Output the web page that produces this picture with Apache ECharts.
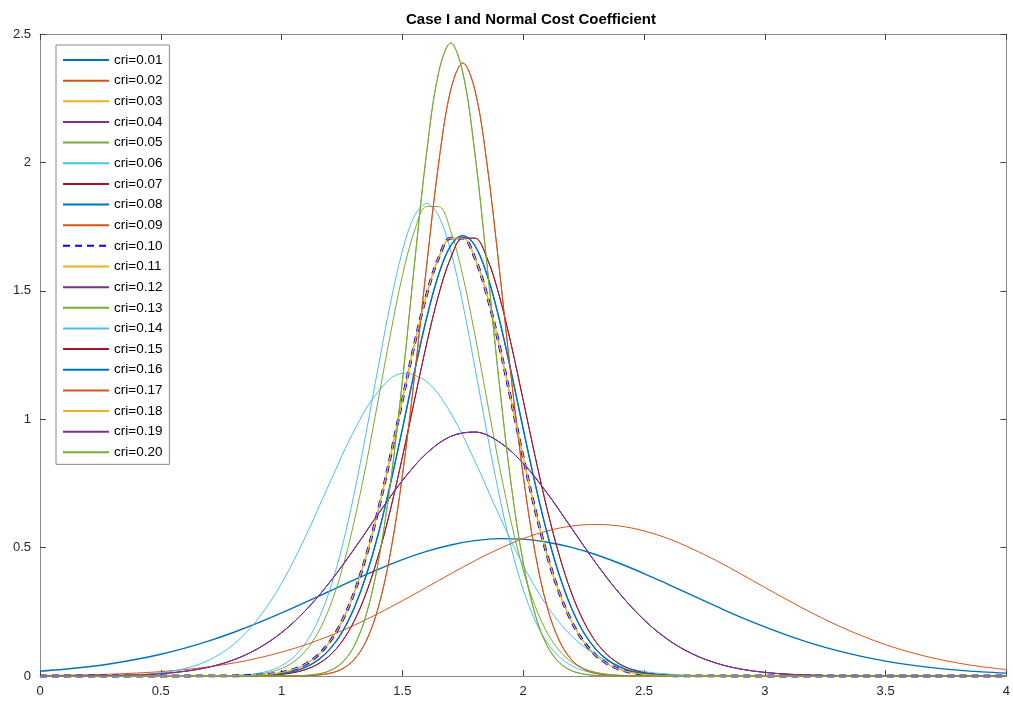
<!DOCTYPE html>
<html>
<head>
<meta charset="utf-8">
<script src="https://cdn.jsdelivr.net/npm/echarts@6/dist/echarts.min.js"></script>
<style>
html,body{margin:0;padding:0;background:#fff;}
#chart{width:1013px;height:708px;}
</style>
</head>
<body>
<div id="chart"></div>
<script>
// ---- Data ----
const chartTitle = 'Case I and Normal Cost Coefficient';
const seriesNames = ['cri=0.01','cri=0.02','cri=0.03','cri=0.04','cri=0.05','cri=0.06','cri=0.07','cri=0.08','cri=0.09','cri=0.10',
  'cri=0.11','cri=0.12','cri=0.13','cri=0.14','cri=0.15','cri=0.16','cri=0.17','cri=0.18','cri=0.19','cri=0.20'];
const xTicks = [0, 0.5, 1, 1.5, 2, 2.5, 3, 3.5, 4];
const yTicks = [0, 0.5, 1, 1.5, 2, 2.5];

// x grid for the wide curves (0 .. 4, step 0.1)
const xsWide = [0,0.1,0.2,0.3,0.4,0.5,0.6,0.7,0.8,0.9,1.0,1.1,1.2,1.3,1.4,1.5,1.6,1.7,1.8,1.9,2.0,
  2.1,2.2,2.3,2.4,2.5,2.6,2.7,2.8,2.9,3.0,3.1,3.2,3.3,3.4,3.5,3.6,3.7,3.8,3.9,4.0];
// x grid for the narrow curves
const xsNarrow = [0,0.5,0.8,0.85,0.9,0.95,1.0,1.05,1.1,1.15,1.2,1.25,1.3,1.35,1.4,1.45,1.5,1.55,1.6,1.65,1.7,1.75,
  1.8,1.85,1.9,1.95,2.0,2.05,2.1,2.15,2.2,2.25,2.3,2.35,2.4,2.45,2.5,2.55,2.6,2.65,2.7,3.0,3.5,4.0];

// wide blue curve (peak ~0.535 near 1.93)
const curveWideBlue = [0.0187,0.0262,0.0361,0.0488,0.065,0.0848,0.1087,0.1369,0.1694,0.2057,0.2455,0.2876,0.331,0.374,0.415,0.453,0.485,0.510,0.527,0.535,0.533,
  0.521,0.501,0.473,0.438,0.399,0.357,0.314,0.271,0.229,0.191,0.156,0.125,0.0987,0.0763,0.058,0.0433,0.0318,0.0229,0.0162,0.0113];
// wide orange curve (peak ~0.59 near 2.3)
const curveWideOrange = [0.0018,0.003,0.0047,0.0074,0.0114,0.017,0.025,0.0358,0.0503,0.0692,0.0929,0.122,0.157,0.1975,0.243,0.293,0.345,0.398,0.449,0.495,0.535,
  0.565,0.584,0.59,0.584,0.565,0.535,0.495,0.449,0.398,0.345,0.293,0.243,0.1975,0.157,0.122,0.0929,0.0692,0.0503,0.0358,0.025];
// purple curve (peak ~0.95 near 1.78)
const curvePurple = [0.0001,0.0003,0.0008,0.0019,0.0043,0.0091,0.0183,0.0348,0.0624,0.1058,0.169,0.256,0.366,0.494,0.631,0.761,0.867,0.933,0.95,
  0.912,0.828,0.711,0.576,0.441,0.320,0.219,0.141,0.0863,0.0498,0.0271,0.014,0.0068,0.0031,0.0014,0.0006,0.0002,0.0001,0,0,0,0];
// light blue curve (peak ~1.18 near 1.52)
const curveLightBlueLow = [0,0,0,0.0017,0.0049,0.0124,0.029,0.0622,0.122,0.2195,0.361,0.545,0.754,0.955,1.108,1.178,
  1.147,1.024,0.837,0.627,0.431,0.271,0.156,0.0824,0.0399,0.0176,0.0072,0.0027,0.0009,0.0003,0,0,0,0,0,0,0,0,0,0,0];

// narrow curves on xsNarrow
const curveLightBlueHigh = [0,0,0.0021,0.0047,0.0101,0.0207,0.0403,0.0742,0.129,0.214,0.337,0.501,0.708,0.948,1.203,1.449,1.655,1.792,1.84,1.792,1.655,1.449,
  1.203,0.948,0.708,0.501,0.337,0.214,0.129,0.0742,0.0403,0.0207,0.0101,0.0047,0.0021,0.0009,0.0003,0.0001,0,0,0,0,0,0];
const curveGreenMid = [0,0,0.0013,0.0031,0.0069,0.0146,0.0291,0.055,0.0986,0.1676,0.270,0.413,0.600,0.824,1.075,1.329,1.559,1.733,1.828,1.828,1.733,1.559,
  1.329,1.075,0.824,0.600,0.413,0.270,0.1676,0.0986,0.055,0.0291,0.0146,0.0069,0.0031,0.0013,0.0005,0.0002,0,0,0,0,0,0];
const curveGreenTall = [0,0,0,0,0,0,0.0002,0.0008,0.0025,0.0076,0.0208,0.0516,0.1161,0.2376,0.442,0.747,1.148,1.604,2.036,2.350,2.465,2.350,
  2.036,1.604,1.148,0.747,0.442,0.2376,0.1161,0.0516,0.0208,0.0076,0.0025,0.0008,0.0002,0,0,0,0,0,0,0,0,0];
const curveOrangeTall = [0,0,0,0,0,0,0.0001,0.0004,0.0012,0.0038,0.0106,0.0271,0.0635,0.136,0.266,0.4765,0.780,1.166,1.595,1.996,2.282,2.387,
  2.282,1.996,1.595,1.166,0.780,0.4765,0.266,0.136,0.0635,0.0271,0.0106,0.0038,0.0012,0.0004,0.0001,0,0,0,0,0,0,0];
const curveClusterLeft = [0,0,0.0006,0.0015,0.0032,0.0067,0.0133,0.0254,0.0464,0.0808,0.1343,0.2132,0.323,0.4675,0.646,0.8525,1.074,1.292,1.484,1.628,1.705,1.705,
  1.628,1.484,1.292,1.074,0.8525,0.646,0.4675,0.323,0.2132,0.1343,0.0808,0.0464,0.0254,0.0133,0.0067,0.0032,0.0015,0.0006,0.0003,0,0,0];
const curveClusterMid = [0,0,0.0004,0.001,0.0022,0.0046,0.0095,0.0185,0.0345,0.0616,0.1048,0.170,0.264,0.391,0.5528,0.7465,0.9625,1.185,1.393,1.5636,1.676,1.715,
  1.676,1.5636,1.393,1.185,0.9625,0.7465,0.5528,0.391,0.264,0.170,0.1048,0.0616,0.0345,0.0185,0.0095,0.0046,0.0022,0.001,0.0004,0,0,0];
const curveClusterRight = [0,0,0.0003,0.0006,0.0015,0.0032,0.0067,0.0133,0.0254,0.0464,0.0808,0.1343,0.2132,0.323,0.4675,0.646,0.8525,1.074,1.292,1.484,1.628,1.705,
  1.705,1.628,1.484,1.292,1.074,0.8525,0.646,0.4675,0.323,0.2132,0.1343,0.0808,0.0464,0.0254,0.0133,0.0067,0.0032,0.0015,0.0006,0,0,0];

// ---- Styling ----
const C = {blue:'#0072BD', orange:'#D95319', yellow:'#EDB120', purple:'#7E2F8E', green:'#77AC30', lblue:'#4DBEEE', dred:'#A2142F'};
const FONT = '"Liberation Sans", Arial, Helvetica, sans-serif';

function pairs(xs, ys){ return xs.map((x,i)=>[x, ys[i]]); }

// series definition: [xs, ys, color, width, dashed]
const defs = [
  [xsWide, curveWideBlue, C.blue, 1.4, false],
  [xsNarrow, curveOrangeTall, C.orange, 1, false],
  [xsNarrow, curveClusterLeft, C.yellow, 1, false],
  [xsWide, curvePurple, C.purple, 1, false],
  [xsNarrow, curveGreenMid, C.green, 1, false],
  [xsNarrow, curveLightBlueHigh, C.lblue, 1, false],
  [xsNarrow, curveClusterRight, C.dred, 1, false],
  [xsNarrow, curveClusterMid, C.blue, 1, false],
  [xsWide, curveWideOrange, C.orange, 1, false],
  [xsNarrow, curveClusterLeft, '#0000FF', 2.8, true],
  [xsNarrow, curveClusterLeft, C.yellow, 1, false],
  [xsWide, curvePurple, C.purple, 1, false],
  [xsNarrow, curveGreenTall, C.green, 1, false],
  [xsWide, curveLightBlueLow, C.lblue, 1, false],
  [xsNarrow, curveClusterRight, C.dred, 1, false],
  [xsNarrow, curveClusterMid, C.blue, 1.4, false],
  [xsNarrow, curveOrangeTall, C.orange, 1, false],
  [xsNarrow, curveClusterLeft, C.yellow, 1, false],
  [xsWide, curvePurple, C.purple, 1, false],
  [xsNarrow, curveGreenTall, C.green, 1, false]
];

const series = defs.map((d, i) => ({
  name: seriesNames[i],
  type: 'line',
  data: pairs(d[0], d[1]),
  showSymbol: false,
  symbol: 'none',
  smooth: 0.35,
  clip: false,
  color: d[2],
  itemStyle: {color: d[2]},
  lineStyle: {color: d[2], width: d[3], type: d[4] ? [7, 5] : 'solid'},
  emphasis: {disabled: true},
  z: 2 + i
}));

const axisColor = '#8a8a8a';
const labelStyle = {color: '#262626', fontSize: 13, fontFamily: FONT};

const chart = echarts.init(document.getElementById('chart'), null, {renderer: 'canvas'});
chart.setOption({
  animation: false,
  backgroundColor: '#ffffff',
  title: {
    text: chartTitle,
    left: 526, top: 7, textAlign: 'center',
    textStyle: {fontSize: 15, fontWeight: 'bold', color: '#000', fontFamily: FONT}
  },
  grid: {left: 40, right: 5, top: 34, bottom: 32, containLabel: false},
  legend: {
    orient: 'vertical', left: 56, top: 45,
    padding: [8, 7, 5, 6],
    itemWidth: 46, itemHeight: 14, itemGap: 6.65,
    backgroundColor: '#fff', borderColor: '#8a8a8a', borderWidth: 1,
    itemStyle: {opacity: 0},
    textStyle: {fontSize: 13.5, color: '#000', fontFamily: FONT},
    data: seriesNames
  },
  xAxis: [{
    type: 'value', min: 0, max: 4, interval: 0.5, position: 'bottom',
    axisLine: {onZero: false, lineStyle: {color: axisColor, width: 1}},
    axisTick: {inside: true, length: 6, lineStyle: {color: '#444'}},
    axisLabel: Object.assign({margin: 9, formatter: v => String(v)}, labelStyle),
    splitLine: {show: false}
  }, {
    type: 'value', min: 0, max: 4, interval: 0.5, position: 'top',
    axisLine: {onZero: false, lineStyle: {color: axisColor, width: 1}},
    axisTick: {inside: true, length: 6, lineStyle: {color: '#444'}},
    axisLabel: {show: false}, splitLine: {show: false}
  }],
  yAxis: [{
    type: 'value', min: 0, max: 2.5, interval: 0.5, position: 'left',
    axisLine: {show: true, onZero: false, lineStyle: {color: axisColor, width: 1}},
    axisTick: {show: true, inside: true, length: 6, lineStyle: {color: '#444'}},
    axisLabel: Object.assign({margin: 9, formatter: v => String(v)}, labelStyle),
    splitLine: {show: false}
  }, {
    type: 'value', min: 0, max: 2.5, interval: 0.5, position: 'right',
    axisLine: {show: true, onZero: false, lineStyle: {color: axisColor, width: 1}},
    axisTick: {show: true, inside: true, length: 6, lineStyle: {color: '#444'}},
    axisLabel: {show: false}, splitLine: {show: false}
  }],
  series: series
});
</script>
</body>
</html>
